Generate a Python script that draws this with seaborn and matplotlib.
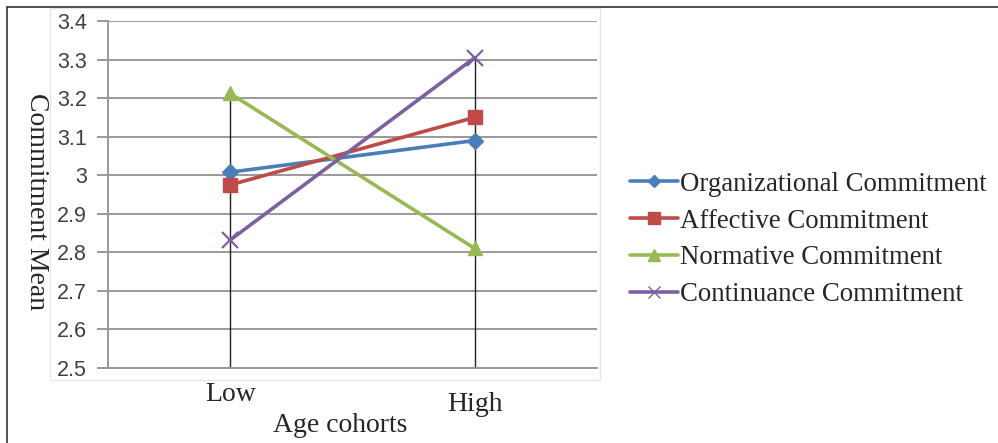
import matplotlib
matplotlib.use("Agg")
import matplotlib.pyplot as plt
import matplotlib.transforms as mtransforms
from matplotlib.lines import Line2D
from matplotlib.patches import Rectangle
import seaborn as sns
import pandas as pd

categories = ["Low", "High"]
series_names = ["Organizational Commitment", "Affective Commitment",
                "Normative Commitment", "Continuance Commitment"]
organizational = [3.008, 3.09]
affective = [2.975, 3.15]
normative = [3.212, 2.81]
continuance = [2.832, 3.305]
y_ticks = [2.5, 2.6, 2.7, 2.8, 2.9, 3.0, 3.1, 3.2, 3.3, 3.4]
y_tick_labels = ["2.5", "2.6", "2.7", "2.8", "2.9", "3", "3.1", "3.2", "3.3", "3.4"]

colors = ["#4A7EBB", "#BE4B48", "#98B954", "#7D60A0"]
markers = ["D", "s", "^", "x"]
msizes = [8, 10, 10, 11]

sns.set_theme(style="white")
plt.rcParams["font.family"] = ["Liberation Serif", "DejaVu Serif"]

fig = plt.figure(figsize=(9.98, 4.43), dpi=100)
ax = fig.add_axes([108/998, 1-368/443, (597-108)/998, (368-21)/443])

values = [organizational, affective, normative, continuance]
rows = []
for name, vals in zip(series_names, values):
    for i, v in enumerate(vals):
        rows.append({"series": name, "x": i, "y": v})
df = pd.DataFrame(rows)

# drop lines
for i in range(len(categories)):
    top = max(v[i] for v in values)
    ax.vlines(i, 2.5, top, color="#222222", lw=1.0, zorder=1)

for name, col, mk, ms in zip(series_names, colors, markers, msizes):
    sub = df[df["series"] == name]
    sns.lineplot(data=sub, x="x", y="y", ax=ax, color=col, lw=2.6,
                 marker=mk, markersize=ms, markeredgecolor=col,
                 markeredgewidth=1.6 if mk == "x" else 1, label=name, zorder=3)

ax.set_xlim(-0.5, 1.5)
ax.set_ylim(2.5, 3.4)
ax.set_yticks(y_ticks)
ax.set_yticklabels(y_tick_labels, fontfamily="Liberation Sans", fontsize=15.5, color="#404040")
ax.yaxis.grid(True, color="#999999", lw=1.4)
ax.xaxis.grid(False)
ax.tick_params(axis="y", length=8, width=1.4, color="#999999", pad=7, left=True)
ax.set_xticks(range(len(categories)))
ax.set_xticklabels(categories, fontsize=20)
ax.tick_params(axis="x", length=0, pad=10)
# shift "High" slightly lower as in reference
lbls = ax.get_xticklabels()
lbls[1].set_transform(lbls[1].get_transform() +
                      mtransforms.ScaledTranslation(0, -7/72, fig.dpi_scale_trans))
for s in ["top", "right"]:
    ax.spines[s].set_visible(False)
for s in ["left", "bottom"]:
    ax.spines[s].set_color("#999999")
    ax.spines[s].set_linewidth(1.4)

ax.set_xlabel("")
ax.set_ylabel("")
fig.text(340/998, 1-426/443, "Age cohorts", ha="center", va="center", fontsize=20)
fig.text(36/998, 1-202/443, "Commitment Mean", ha="center", va="center",
         rotation=270, fontsize=20)

ax.get_legend().remove()
handles = [Line2D([], [], color=c, lw=2.6, marker=m, markersize=ms * 0.8,
                  markeredgecolor=c) for c, m, ms in zip(colors, markers, msizes)]
fig.legend(handles, series_names, loc="upper left",
           bbox_to_anchor=(619/998, 1-161/443), frameon=False, fontsize=19.3,
           handlelength=1.8, handletextpad=0.08, labelspacing=0.44,
           borderaxespad=0)

# plot-area faint frame and outer border
fig.add_artist(Rectangle((50/998, 1-380/443), 550/998, 372/443,
                         transform=fig.transFigure, fill=False,
                         edgecolor="#e6e6e6", lw=1))
fig.add_artist(Line2D([7/998, 1], [1-7/443, 1-7/443], transform=fig.transFigure,
                      color="#333333", lw=1.2))
fig.add_artist(Line2D([7/998, 7/998], [0, 1-7/443], transform=fig.transFigure,
                      color="#333333", lw=1.2))

fig.savefig("out.png", dpi=100)
